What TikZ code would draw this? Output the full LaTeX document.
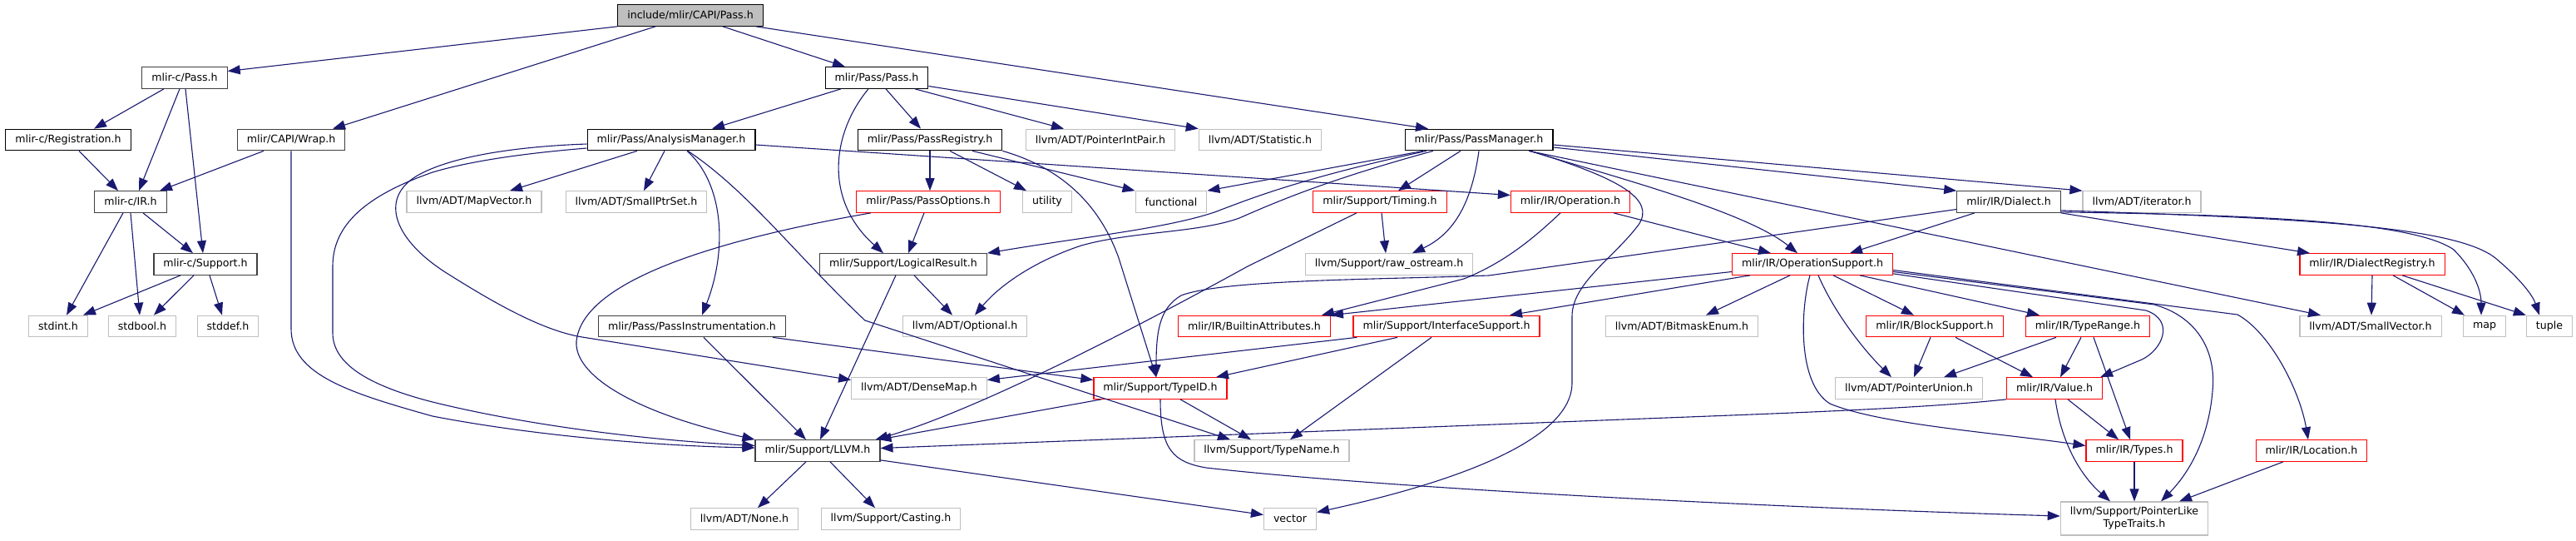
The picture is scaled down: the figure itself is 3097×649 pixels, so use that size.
\documentclass[tikz,border=0pt]{standalone}
\usepackage{fontspec}
\newfontfamily\graphfont{DejaVu Sans}
\usetikzlibrary{arrows.meta}
\definecolor{edgeblue}{HTML}{191970}
\definecolor{extgray}{HTML}{BFBFBF}
\definecolor{linkgray}{HTML}{404040}
\definecolor{rootgray}{HTML}{BFBFBF}

\begin{document}
\begin{tikzpicture}[
    x=1pt, y=-1pt,
    file/.style={draw=black,fill=white,line width=1.2pt,minimum height=25.5pt,inner xsep=11.5pt,inner ysep=0pt,font=\graphfont\fontsize{12.6}{15}\selectfont},
    linked/.style={file,draw=linkgray},
    ext/.style={file,draw=extgray},
    cut/.style={file,draw=red},
    dep/.style={-{Triangle[length=15pt,width=11pt]},draw=edgeblue,line width=1.1pt}
  ]
  \useasboundingbox (0,0) rectangle (3097,649);

  \node[file,fill=rootgray] (root) at (830,18.5) {include/mlir/CAPI/Pass.h};

  \node[linked] (cpass) at (222,93.5) {mlir-c/Pass.h};
  \node[file] (pass) at (1054,93.5) {mlir/Pass/Pass.h};

  \node[file] (creg) at (82,168) {mlir-c/Registration.h};
  \node[linked] (wrap) at (350,168) {mlir/CAPI/Wrap.h};
  \node[file] (anam) at (807,168) {mlir/Pass/AnalysisManager.h};
  \node[file] (preg) at (1118,168) {mlir/Pass/PassRegistry.h};
  \node[ext] (pip) at (1323,168) {llvm/ADT/PointerIntPair.h};
  \node[ext] (stat) at (1515,168) {llvm/ADT/Statistic.h};
  \node[file] (pman) at (1778,168) {mlir/Pass/PassManager.h};

  \node[linked] (cir) at (157,242.5) {mlir-c/IR.h};
  \node[ext] (mapv) at (570,242.5) {llvm/ADT/MapVector.h};
  \node[ext] (sps) at (765,242.5) {llvm/ADT/SmallPtrSet.h};
  \node[cut] (popt) at (1116,242.5) {mlir/Pass/PassOptions.h};
  \node[ext] (util) at (1259,242.5) {utility};
  \node[ext] (func) at (1408,242.5) {functional};
  \node[cut] (timing) at (1659,242.5) {mlir/Support/Timing.h};
  \node[cut] (oper) at (1888,242.5) {mlir/IR/Operation.h};
  \node[linked] (dial) at (2415,242.5) {mlir/IR/Dialect.h};
  \node[ext] (iter) at (2575,242.5) {llvm/ADT/iterator.h};

  \node[linked] (csup) at (247,317.5) {mlir-c/Support.h};
  \node[linked] (lres) at (1086,317.5) {mlir/Support/LogicalResult.h};
  \node[ext] (raw) at (1670,317.5) {llvm/Support/raw\_ostream.h};
  \node[cut] (opsup) at (2179,317.5) {mlir/IR/OperationSupport.h};
  \node[cut] (dreg) at (2852,317.5) {mlir/IR/DialectRegistry.h};

  \node[ext] (stdint) at (70,392) {stdint.h};
  \node[ext] (stdbool) at (171,392) {stdbool.h};
  \node[ext] (stddef) at (274,392) {stddef.h};
  \node[linked] (pinst) at (832,392) {mlir/Pass/PassInstrumentation.h};
  \node[ext] (opt) at (1160,392) {llvm/ADT/Optional.h};
  \node[cut] (battr) at (1508,392) {mlir/IR/BuiltinAttributes.h};
  \node[cut] (isup) at (1739,392) {mlir/Support/InterfaceSupport.h};
  \node[ext] (bme) at (2022,392) {llvm/ADT/BitmaskEnum.h};
  \node[cut] (bsup) at (2326,392) {mlir/IR/BlockSupport.h};
  \node[cut] (trange) at (2510,392) {mlir/IR/TypeRange.h};
  \node[ext] (svec) at (2850,392) {llvm/ADT/SmallVector.h};
  \node[ext] (map) at (2987,392) {map};
  \node[ext] (tuple) at (3065,392) {tuple};

  \node[ext] (dmap) at (1105,466.5) {llvm/ADT/DenseMap.h};
  \node[cut] (tid) at (1395,466.5) {mlir/Support/TypeID.h};
  \node[ext] (punion) at (2295,466.5) {llvm/ADT/PointerUnion.h};
  \node[cut] (val) at (2470,466.5) {mlir/IR/Value.h};

  \node[linked] (llvmh) at (983,541.5) {mlir/Support/LLVM.h};
  \node[ext] (tname) at (1529,541.5) {llvm/Support/TypeName.h};
  \node[cut] (types) at (2566,541.5) {mlir/IR/Types.h};
  \node[cut] (loc) at (2779,541.5) {mlir/IR/Location.h};

  \node[ext] (none) at (895,623.5) {llvm/ADT/None.h};
  \node[ext] (cast) at (1071,623.5) {llvm/Support/Casting.h};
  \node[ext] (vec) at (1551,623.5) {vector};
  \node[ext,align=center,minimum height=40pt] (pltt) at (2566,623) {llvm/Support/PointerLike\\TypeTraits.h};

  \draw[dep] (root.south west) -- ([yshift=8pt]cpass.east);
  \draw[dep] ([xshift=-42pt]root.south) -- ([xshift=50pt]wrap.north);
  \draw[dep] ([xshift=39pt]root.south) -- ([xshift=-38pt]pass.north);
  \draw[dep] ([xshift=-9pt]root.south east) -- ([xshift=-61pt]pman.north);

  \draw[dep] ([xshift=-25pt]cpass.south) -- ([xshift=31pt]creg.north);
  \draw[dep] ([xshift=-6pt]cpass.south) -- ([xshift=10pt]cir.north);
  \draw[dep] ([xshift=1pt]cpass.south) -- ([xshift=-3pt]csup.north);
  \draw[dep] ([xshift=13pt]creg.south) -- ([xshift=-15pt]cir.north);
  \draw[dep] ([xshift=-33pt]wrap.south) -- ([xshift=35pt]cir.north);
  \draw[dep] (wrap.south) -- (350,395) .. controls (350,450) and (420,472) .. (520,500)
    .. controls (650,525) and (800,536) .. ([yshift=3.5pt]llvmh.west);
  \draw[dep] ([xshift=15pt]cir.south) -- ([xshift=-15pt]csup.north);
  \draw[dep] ([xshift=-9pt]cir.south) -- ([xshift=10pt]stdint.north);
  \draw[dep] (cir.south) -- ([xshift=-3pt]stdbool.north);
  \draw[dep] ([xshift=-30pt]csup.south) -- ([xshift=30pt]stdint.north);
  \draw[dep] ([xshift=-14pt]csup.south) -- ([xshift=14pt]stdbool.north);
  \draw[dep] ([xshift=5pt]csup.south) -- ([xshift=-7pt]stddef.north);

  \draw[dep] ([xshift=-43pt]pass.south) -- ([xshift=49pt]anam.north);
  \draw[dep] ([xshift=11pt]pass.south) -- ([xshift=-11pt]preg.north);
  \draw[dep] ([xshift=46pt]pass.south) -- ([xshift=-44pt]pip.north);
  \draw[dep] ([yshift=-10pt]pass.east) -- (stat.north west);
  \draw[dep] ([xshift=-10pt]pass.south) .. controls (1000,160) and (990,240) .. ([xshift=-24pt]lres.north);

  \draw[dep] ([yshift=-10pt]anam.west) .. controls (620,185) and (560,195) .. (520,207)
    .. controls (440,235) and (400,270) .. (400,320) -- (400,400)
    .. controls (400,440) and (450,465) .. (520,483)
    .. controls (650,515) and (800,530) .. ([yshift=6pt]llvmh.west);
  \draw[dep] ([yshift=-5pt]anam.west) .. controls (620,176) and (540,188) .. (500,212)
    .. controls (455,240) and (475,290) .. (540,330)
    .. controls (588,360) and (650,397) .. (700,405) -- ([yshift=10pt]dmap.west);
  \draw[dep] ([xshift=-41pt]anam.south) -- ([xshift=43pt]mapv.north);
  \draw[dep] ([xshift=-8pt]anam.south) -- ([xshift=9pt]sps.north);
  \draw[dep] ([xshift=19pt]anam.south) .. controls (870,220) and (875,300) .. ([xshift=12pt]pinst.north);
  \draw[dep] ([xshift=20pt]anam.south) .. controls (900,230) and (960,310) .. (1040,385) -- ([xshift=-50pt]tname.north);
  \draw[dep] ([yshift=-6pt]anam.east) -- ([yshift=8pt]oper.west);

  \draw[dep] (preg.south) -- ([xshift=2pt]popt.north);
  \draw[dep] ([xshift=24pt]preg.south) -- ([xshift=-25pt]util.north);
  \draw[dep] ([xshift=51pt]preg.south) -- (func.north west);
  \draw[dep] (preg.south east) .. controls (1270,200) and (1320,240) .. (1345,310) -- ([xshift=-5pt]tid.north);

  \draw[dep] ([xshift=-5pt]popt.south) -- ([xshift=6pt]lres.north);
  \draw[dep] ([xshift=-69pt]popt.south) .. controls (850,290) and (700,340) .. (693,410)
    .. controls (690,450) and (760,495) .. (llvmh.north west);

  \draw[dep] ([xshift=13pt]lres.south) -- ([xshift=-15pt]opt.north);
  \draw[dep] ([xshift=-9pt]lres.south) -- ([xshift=3pt]llvmh.north);

  \draw[dep] ([xshift=-67pt]pman.south) -- (func.north east);
  \draw[dep] ([xshift=-63pt]pman.south) .. controls (1560,215) and (1500,240) .. (1460,255)
    .. controls (1400,275) and (1300,285) .. (lres.north east);
  \draw[dep] ([xshift=-55pt]pman.south) .. controls (1600,215) and (1540,240) .. (1490,262)
    .. controls (1440,280) and (1360,278) .. (1300,295)
    .. controls (1240,315) and (1200,345) .. ([xshift=12pt]opt.north);
  \draw[dep] ([xshift=-22pt]pman.south) -- ([xshift=22pt]timing.north);
  \draw[dep] (pman.south) .. controls (1770,240) and (1750,280) .. ([xshift=28pt]raw.north);
  \draw[dep] ([yshift=-6pt]pman.east) -- (iter.north west);
  \draw[dep] ([yshift=-9pt]pman.east) -- (dial.north west);
  \draw[dep] ([xshift=60pt]pman.south) -- ([xshift=-60pt]svec.north);
  \draw[dep] ([xshift=61pt]pman.south) .. controls (1950,215) and (2100,255) .. ([xshift=-18pt]opsup.north);
  \draw[dep] ([xshift=62pt]pman.south) .. controls (1950,215) and (1990,240) .. (1970,270)
    .. controls (1940,310) and (1890,340) .. (1890,380) -- (1890,460)
    .. controls (1890,540) and (1700,590) .. ([yshift=8pt]vec.east);

  \draw[dep] ([xshift=2pt]timing.south) -- ([xshift=-4pt]raw.north);
  \draw[dep] ([xshift=-28pt]timing.south) -- (1500,320)
    .. controls (1300,430) and (1150,500) .. ([xshift=-6pt]llvmh.north east);

  \draw[dep] ([xshift=52pt]oper.south) -- ([xshift=-50pt]opsup.north);
  \draw[dep] ([xshift=-12pt]oper.south) .. controls (1845,285) and (1810,315) .. (1760,335)
    -- ([xshift=-11pt]battr.north east);

  \draw[dep] ([yshift=-9pt]dial.west) -- (1790,331) .. controls (1650,336) and (1470,336) .. (1420,355)
    .. controls (1395,370) and (1390,395) .. ([xshift=-5pt]tid.north);
  \draw[dep] ([xshift=-41pt]dial.south) -- ([xshift=45pt]opsup.north);
  \draw[dep] (dial.south east) -- ([xshift=-75pt]dreg.north);
  \draw[dep] ([yshift=1pt]dial.south east) .. controls (2700,258) and (2900,265) .. (2950,300)
    .. controls (2975,325) and (2983,350) .. ([xshift=-4pt]map.north);
  \draw[dep] ([yshift=3pt]dial.south east) .. controls (2750,262) and (2950,270) .. (3000,310)
    .. controls (3030,335) and (3045,355) .. ([xshift=-12pt]tuple.north);

  \draw[dep] ([yshift=-9pt]opsup.west) -- (battr.north east);
  \draw[dep] ([xshift=-75pt]opsup.south) -- ([xshift=76pt]isup.north);
  \draw[dep] ([xshift=-27pt]opsup.south) -- ([xshift=29pt]bme.north);
  \draw[dep] ([xshift=-3pt]opsup.south) .. controls (2165,370) and (2160,460) .. (2200,485)
    .. controls (2260,510) and (2400,520) .. ([yshift=6pt]types.west);
  \draw[dep] ([xshift=7pt]opsup.south) .. controls (2205,375) and (2240,420) .. ([xshift=-21pt]punion.north);
  \draw[dep] ([xshift=25pt]opsup.south) -- ([xshift=-25pt]bsup.north);
  \draw[dep] ([xshift=57pt]opsup.south) -- ([xshift=-58pt]trange.north);
  \draw[dep] ([yshift=2pt]opsup.south east) -- (2580,373) .. controls (2615,385) and (2600,420) .. (2575,432)
    -- ([xshift=-3pt]val.north east);
  \draw[dep] ([yshift=-7pt]opsup.east) -- (2690,378) .. controls (2730,400) and (2765,470) .. ([xshift=-4pt]loc.north);
  \draw[dep] ([yshift=-9pt]opsup.east) -- (2590,366) .. controls (2640,380) and (2665,420) .. (2660,470)
    .. controls (2655,530) and (2630,570) .. ([xshift=32pt]pltt.north);

  \draw[dep] ([xshift=5pt]isup.south west) -- ([yshift=10pt]dmap.east);
  \draw[dep] ([xshift=-59pt]isup.south) -- ([xshift=67pt]tid.north);
  \draw[dep] ([xshift=-18pt]isup.south) -- ([xshift=22pt]tname.north);

  \draw[dep] ([xshift=-5pt]bsup.south) -- ([xshift=6pt]punion.north);
  \draw[dep] ([xshift=25pt]bsup.south) -- ([xshift=-26pt]val.north);
  \draw[dep] ([xshift=-38pt]trange.south) -- ([xshift=42pt]punion.north);
  \draw[dep] ([xshift=-8pt]trange.south) -- ([xshift=7pt]val.north);
  \draw[dep] ([xshift=7pt]trange.south) -- ([xshift=-5pt]types.north);

  \draw[dep] ([xshift=16pt]val.south) -- ([xshift=-19pt]types.north);
  \draw[dep] ([xshift=1pt]val.south) .. controls (2478,530) and (2500,570) .. ([xshift=-29pt]pltt.north);
  \draw[dep] (val.south west) .. controls (2300,492) and (2100,498) .. (1900,506) -- ([yshift=3pt]llvmh.east);
  \draw[dep] (types.south) -- (pltt.north);
  \draw[dep] ([xshift=-34pt]loc.south) -- ([xshift=54pt]pltt.north);

  \draw[dep] ([xshift=-71pt]tid.south) -- ([xshift=-2pt]llvmh.north east);
  \draw[dep] ([xshift=24pt]tid.south) -- ([xshift=-25pt]tname.north);
  \draw[dep] (tid.south) .. controls (1395,540) and (1410,555) .. (1450,562)
    .. controls (1700,590) and (2200,612) .. ([yshift=3pt]pltt.west);

  \draw[dep] ([xshift=14pt]pinst.south) -- ([xshift=-14pt]llvmh.north);
  \draw[dep] ([xshift=97pt]pinst.south) -- ([yshift=10pt]tid.west);

  \draw[dep] ([xshift=-14pt]llvmh.south) -- ([xshift=16pt]none.north);
  \draw[dep] ([xshift=15pt]llvmh.south) -- ([xshift=-19pt]cast.north);
  \draw[dep] ([yshift=2pt]llvmh.south east) -- ([yshift=5pt]vec.west);

  \draw[dep] (dreg.south) -- ([xshift=1pt]svec.north);
  \draw[dep] ([xshift=25pt]dreg.south) -- ([xshift=-24pt]map.north);
  \draw[dep] ([xshift=36pt]dreg.south) -- (tuple.north west);
\end{tikzpicture}
\end{document}
